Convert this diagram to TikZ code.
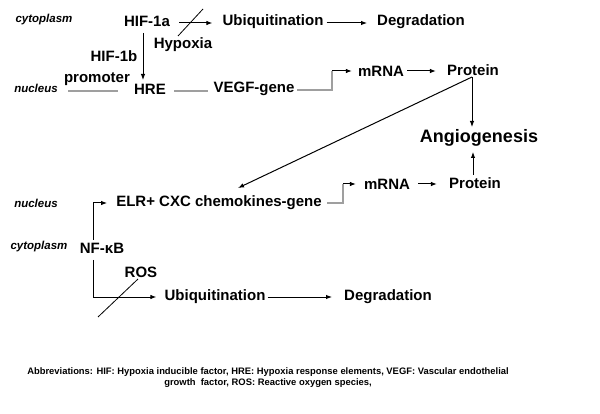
\documentclass[tikz,border=0pt]{standalone}
\usepackage{fontspec}
\setmainfont{Liberation Sans}
\usetikzlibrary{arrows.meta,calc}
\tikzset{
  lbl/.style={font=\bfseries\fontsize{15}{17}\selectfont, inner sep=0pt},
  reg/.style={font=\bfseries\itshape\fontsize{11.5}{13}\selectfont, inner sep=0pt},
  arr/.style={-{Latex[length=6pt,width=4.5pt]}, line width=1pt},
  plain/.style={line width=1pt},
  gline/.style={draw=gray!75, line width=1.2pt},
}
\begin{document}
\begin{tikzpicture}[x=1pt,y=-1pt]
\useasboundingbox[fill=white] (0,0) rectangle (600,414);
% nodes
\node[reg] (cyt1) at (44,20) {cytoplasm};
\node[lbl] (hif) at (147,21) {HIF-1a};
\node[lbl] (hyp) at (183,45) {Hypoxia};
\node[lbl] (ub1) at (273,22) {Ubiquitination};
\node[lbl] (deg1) at (421,22) {Degradation};
\node[lbl] (hifb) at (114,56) {HIF-1b};
\node[reg] (nuc1) at (36,88) {nucleus};
\node[lbl] (prom) at (97,79) {promoter};
\node[lbl] (hre) at (150,89) {HRE};
\node[lbl] (vegf) at (254,89) {VEGF-gene};
\node[lbl] (mrna1) at (381,71) {mRNA};
\node[lbl] (prot1) at (473,70) {Protein};
\node[lbl, font=\bfseries\fontsize{18}{20}\selectfont] (ang) at (479,138) {Angiogenesis};
\node[lbl] (prot2) at (475,183) {Protein};
\node[lbl] (mrna2) at (387,184) {mRNA};
\node[lbl] (elr) at (219,203) {ELR+ CXC chemokines-gene};
\node[reg] (nuc2) at (36,203) {nucleus};
\node[reg] (cyt2) at (39,247) {cytoplasm};
\node[lbl] (nfkb) at (102,248) {NF-κB};
\node[lbl] (ros) at (141,272) {ROS};
\node[lbl] (ub2) at (215,297) {Ubiquitination};
\node[lbl] (deg2) at (388,297) {Degradation};
\node[inner sep=0pt, align=center, font=\bfseries\fontsize{9.4}{11}\selectfont] (abbr) at (268,378)
  {Abbreviations: HIF: Hypoxia inducible factor, HRE: Hypoxia response elements, VEGF: Vascular endothelial\\growth\ \ factor, ROS: Reactive oxygen species,};
% coordinates
\coordinate (s1) at (178,36);
\coordinate (s2) at (203,9);
\coordinate (r1) at (138,279);
\coordinate (r2) at (98,317);
\coordinate (pl) at (68,91);
\coordinate (pr) at (118,91);
\coordinate (v1) at (297,90);
\coordinate (v2) at (332,90);
\coordinate (v3) at (332,71);
\coordinate (e1) at (327,203);
\coordinate (e2) at (343,203);
\coordinate (e3) at (343,184);
\coordinate (n1) at (93,240);
\coordinate (n2) at (93,203);
\coordinate (n3) at (93,260);
\coordinate (n4) at (93,297);
\coordinate (pb) at (472,77);
% connectors
\draw[arr, shorten <=9pt, shorten >=10pt] (hif.east |- 0,23) -- (ub1.west |- 0,23);
\draw[plain, line width=0.8pt] (s1) -- (s2);
\draw[arr, shorten <=3pt, shorten >=10pt] (ub1.east |- 0,23) -- (deg1.west |- 0,23);
\draw[arr] (143,33) -- (143,80);
\draw[gline] (pl) -- (pr);
\draw[gline, shorten <=8pt, shorten >=5pt] (hre.east |- 0,91) -- (vegf.west |- 0,91);
\draw[gline] (v1) -- (v2) -- (v3);
\draw[arr, shorten >=6pt] (v3) -- (mrna1.west |- v3);
\draw[arr, shorten <=3pt, shorten >=11pt] (mrna1.east |- 0,71) -- (prot1.west |- 0,71);
\draw[arr] (pb) -- (472,127);
\draw[arr] (pb) -- (238,188);
\draw[arr] (473,175) -- (473,152);
\draw[arr, shorten <=8pt, shorten >=12pt] (mrna2.east |- 0,184) -- (prot2.west |- 0,184);
\draw[gline] (e1) -- (e2) -- (e3);
\draw[arr, shorten >=8pt] (e3) -- (mrna2.west |- e3);
\draw[arr, shorten >=9pt] (n1) -- (n2) -- (elr.west |- n2);
\draw[arr, shorten >=8pt] (n3) -- (n4) -- (ub2.west |- n4);
\draw[plain, line width=0.8pt] (r1) -- (r2);
\draw[arr, shorten <=2pt, shorten >=12pt] (ub2.east |- 0,297) -- (deg2.west |- 0,297);
\end{tikzpicture}
\end{document}
